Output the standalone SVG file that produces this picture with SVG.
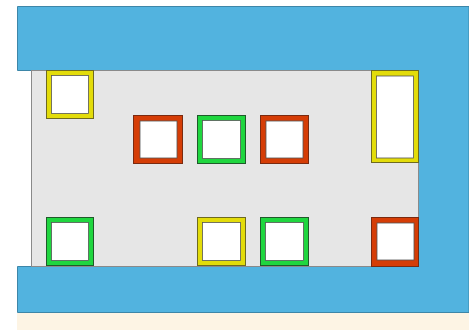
<svg xmlns="http://www.w3.org/2000/svg" width="469" height="330" viewBox="0 0 469 330">
<style>
.wall{fill:#52b3df;stroke:#3d86a8;stroke-width:1}
.floor{fill:#e6e6e6;stroke:#8a8a8a;stroke-width:1}
.y{fill:#e3dc0a;stroke:#6e6a20;stroke-width:1}
.r{fill:#d53d06;stroke:#7a2a10;stroke-width:1}
.g{fill:#1fd63f;stroke:#1f5a2a;stroke-width:1}
.in{fill:#ffffff;stroke:#555555;stroke-width:0.8}
</style>
<rect x="0" y="0" width="469" height="330" fill="#ffffff"/>
<rect x="17" y="313" width="452" height="17" fill="#fdf4e4"/>
<g id="walls">
<path class="wall" d="M17.5 6.5 H469 V312.5 H17.5 V266.5 H418.5 V70.5 H17.5 Z"/>
</g>
<g id="floor">
<rect class="floor" x="31.5" y="70.5" width="387" height="196"/>
</g>
<g id="box1"><rect class="y" x="46.5" y="70.5" width="47" height="48"/><rect class="in" x="51.5" y="75.5" width="37" height="38"/></g>
<g id="box2"><rect class="r" x="133.5" y="115.5" width="49" height="48"/><rect class="in" x="140" y="121" width="37" height="37"/></g>
<g id="box3"><rect class="g" x="197.5" y="115.5" width="48" height="48"/><rect class="in" x="202.5" y="120.5" width="38" height="38"/></g>
<g id="box4"><rect class="r" x="260.5" y="115.5" width="48" height="48"/><rect class="in" x="266" y="121" width="37" height="37"/></g>
<g id="box5"><rect class="y" x="371.5" y="70.5" width="47" height="92"/><rect class="in" x="376.5" y="76" width="37" height="82"/></g>
<g id="box6"><rect class="g" x="46.5" y="217.5" width="47" height="48"/><rect class="in" x="51.5" y="222.5" width="37" height="38"/></g>
<g id="box7"><rect class="y" x="197.5" y="217.5" width="48" height="48"/><rect class="in" x="202.5" y="222.5" width="38" height="38"/></g>
<g id="box8"><rect class="g" x="260.5" y="217.5" width="48" height="48"/><rect class="in" x="265.5" y="222.5" width="38" height="38"/></g>
<g id="box9"><rect class="r" x="371.5" y="217.5" width="47" height="49"/><rect class="in" x="377" y="223" width="37" height="37"/></g>
<g id="connectors"></g>
</svg>
